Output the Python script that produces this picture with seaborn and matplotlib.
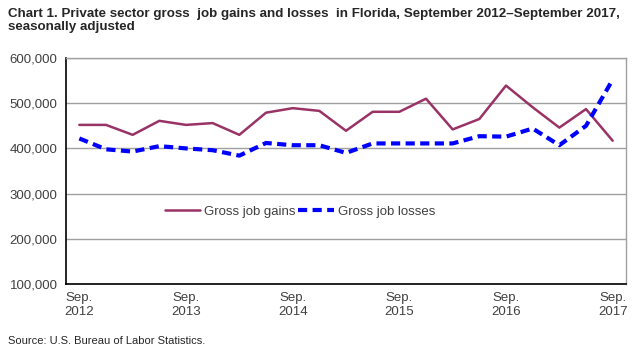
import pandas as pd
import numpy as np
import matplotlib
matplotlib.use("Agg")
import matplotlib.pyplot as plt
import seaborn as sns

sns.set_style("white")
plt.rcParams['font.family'] = ['Liberation Sans', 'DejaVu Sans']

# quarterly, Sep 2012 - Sep 2017
quarters = ["Sep 2012", "Dec 2012", "Mar 2013", "Jun 2013", "Sep 2013", "Dec 2013",
            "Mar 2014", "Jun 2014", "Sep 2014", "Dec 2014", "Mar 2015", "Jun 2015",
            "Sep 2015", "Dec 2015", "Mar 2016", "Jun 2016", "Sep 2016", "Dec 2016",
            "Mar 2017", "Jun 2017", "Sep 2017"]
gains = [452000, 452000, 430000, 461000, 452000, 456000, 430000, 479000, 489000, 483000,
         439000, 481000, 481000, 510000, 442000, 465000, 539000, 491000, 446000, 487000, 417000]
losses = [422000, 398000, 393000, 405000, 400000, 396000, 384000, 412000, 407000, 407000,
          390000, 411000, 411000, 411000, 411000, 427000, 426000, 444000, 407000, 450000, 552000]
tick_labels = ["Sep.\n2012", "Sep.\n2013", "Sep.\n2014", "Sep.\n2015", "Sep.\n2016", "Sep.\n2017"]

df = pd.DataFrame({"q": np.arange(len(quarters)), "gains": gains, "losses": losses})

fig = plt.figure(figsize=(6.42, 3.5), dpi=100)
ax = fig.add_axes([66/642, 1-284/350, 560/642, 226/350])

sns.lineplot(data=df, x="q", y="gains", ax=ax, color="#993366", linewidth=1.8,
             label="Gross job gains")
sns.lineplot(data=df, x="q", y="losses", ax=ax, color="#0000FF", linewidth=3,
             linestyle=(0, (2.2, 1.3)), label="Gross job losses")

ax.set_xlim(-0.5, len(quarters) - 0.5)
ax.set_ylim(100000, 600000)
ax.set_yticks(range(100000, 600001, 100000))
ax.set_yticklabels([f"{v:,}" for v in range(100000, 600001, 100000)])
ax.set_xticks(np.arange(-0.5, len(quarters), 1), minor=True)
ax.set_xticks(np.arange(0, len(quarters), 4))
ax.set_xticklabels(tick_labels)
ax.tick_params(axis="x", which="major", length=0, pad=6, labelsize=9.5, colors="#404040")
ax.tick_params(axis="x", which="minor", length=4, width=1, color="black", direction="out")
ax.tick_params(axis="y", length=0, pad=6, labelsize=9.5, colors="#404040")
ax.grid(axis="y", color="#a0a0a0", linewidth=1)
ax.set_axisbelow(True)
ax.set_xlabel("")
ax.set_ylabel("")
for s in ["left", "bottom"]:
    ax.spines[s].set_color("black")
    ax.spines[s].set_linewidth(1.2)
for s in ["top", "right"]:
    ax.spines[s].set_color("#a0a0a0")
    ax.spines[s].set_linewidth(1)

ax.legend(loc="center left", bbox_to_anchor=(0.155, 0.32), ncol=2, frameon=False,
          fontsize=9.5, handlelength=2.7, handletextpad=0.3, columnspacing=0.2,
          labelcolor="#404040")

fig.text(8/642, 1-8/350, "Chart 1. Private sector gross  job gains and losses  in Florida, September 2012\u2013September 2017,\nseasonally adjusted",
         ha="left", va="top", fontsize=9.6, fontweight="bold", linespacing=1.12,
         family=['Liberation Sans Narrow', 'Liberation Sans', 'DejaVu Sans'])
fig.text(8/642, 1-341/350, "Source: U.S. Bureau of Labor Statistics.", ha="left", va="center",
         fontsize=8, family=['Liberation Sans Narrow', 'Liberation Sans', 'DejaVu Sans'])

fig.savefig("out.png", dpi=100)
